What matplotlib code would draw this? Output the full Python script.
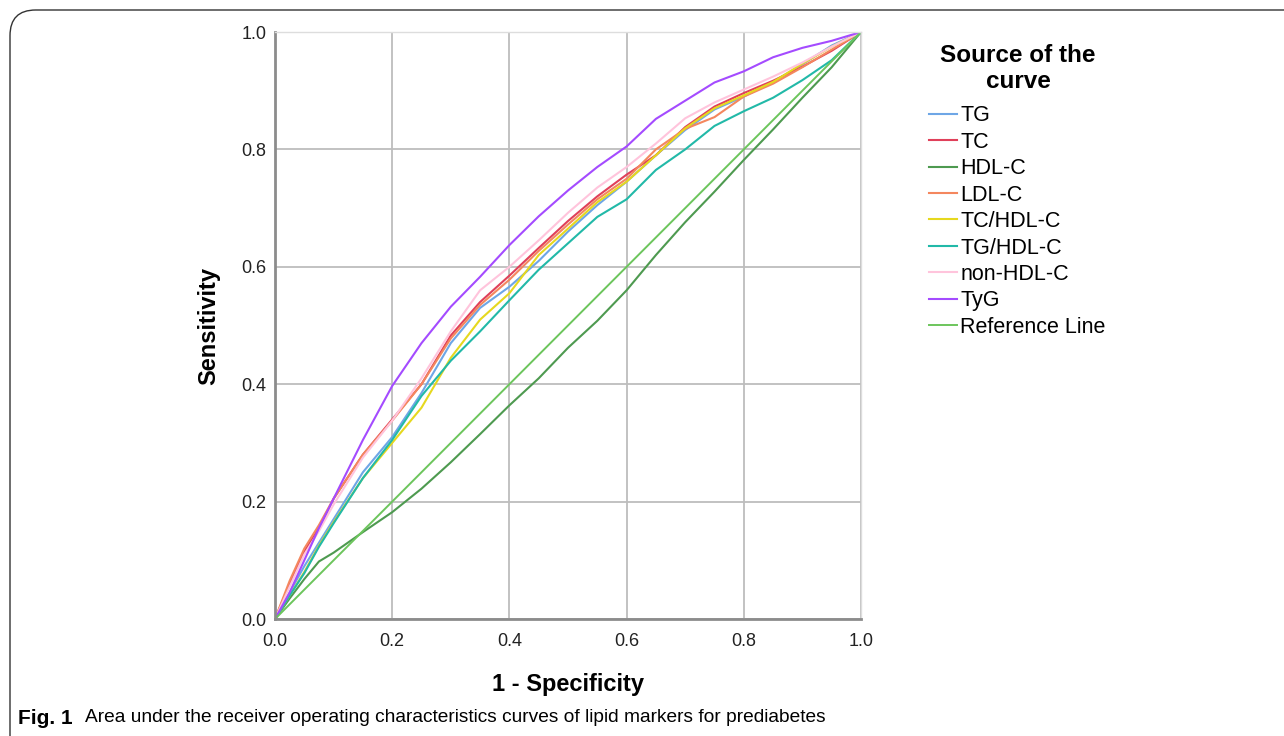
import matplotlib
matplotlib.use("Agg")
import matplotlib.pyplot as plt
from matplotlib import font_manager
from matplotlib.patches import FancyBboxPatch

# ---------------- data ----------------
fpr = [0, 0.025, 0.05, 0.075, 0.1, 0.15, 0.2, 0.25, 0.3, 0.35, 0.4, 0.45,
       0.5, 0.55, 0.6, 0.65, 0.7, 0.75, 0.8, 0.85, 0.9, 0.95, 1.0]

tpr_tg = [0, 0.045, 0.09, 0.13, 0.17, 0.25, 0.31, 0.385, 0.47, 0.53, 0.566, 0.61,
          0.66, 0.705, 0.745, 0.79, 0.833, 0.868, 0.89, 0.915, 0.945, 0.977, 1.0]
tpr_tc = [0, 0.06, 0.115, 0.155, 0.205, 0.28, 0.34, 0.40, 0.483, 0.54, 0.585, 0.632,
          0.678, 0.72, 0.757, 0.79, 0.838, 0.873, 0.896, 0.917, 0.941, 0.968, 1.0]
tpr_hdl = [0, 0.035, 0.068, 0.098, 0.113, 0.148, 0.182, 0.222, 0.267, 0.315, 0.364, 0.41,
           0.462, 0.508, 0.56, 0.62, 0.676, 0.728, 0.782, 0.834, 0.888, 0.94, 1.0]
tpr_ldl = [0, 0.065, 0.12, 0.16, 0.205, 0.28, 0.338, 0.40, 0.478, 0.535, 0.578, 0.627,
           0.672, 0.715, 0.75, 0.80, 0.835, 0.855, 0.89, 0.912, 0.94, 0.97, 1.0]
tpr_tc_hdl = [0, 0.04, 0.08, 0.125, 0.165, 0.24, 0.30, 0.36, 0.445, 0.51, 0.555, 0.62,
              0.665, 0.71, 0.745, 0.79, 0.836, 0.87, 0.892, 0.915, 0.946, 0.975, 1.0]
tpr_tg_hdl = [0, 0.04, 0.078, 0.123, 0.163, 0.24, 0.305, 0.38, 0.44, 0.49, 0.543, 0.595,
              0.64, 0.685, 0.715, 0.765, 0.80, 0.84, 0.865, 0.888, 0.918, 0.952, 1.0]
tpr_nonhdl = [0, 0.055, 0.11, 0.15, 0.195, 0.275, 0.338, 0.41, 0.49, 0.56, 0.60, 0.645,
              0.692, 0.735, 0.77, 0.81, 0.853, 0.88, 0.902, 0.924, 0.948, 0.975, 1.0]
tpr_tyg = [0, 0.045, 0.10, 0.155, 0.205, 0.305, 0.397, 0.47, 0.532, 0.583, 0.637, 0.686,
           0.73, 0.77, 0.805, 0.852, 0.883, 0.914, 0.933, 0.957, 0.973, 0.985, 1.0]
ref_x = [0, 1]
ref_y = [0, 1]

series_names = ["TG", "TC", "HDL-C", "LDL-C", "TC/HDL-C", "TG/HDL-C",
                "non-HDL-C", "TyG", "Reference Line"]
series_colors = ["#6ea6e6", "#e0405a", "#4e9a50", "#f4875e", "#e6d81e",
                 "#22b9a8", "#ffc4dc", "#a44bff", "#6cc55c"]

ticks = [0.0, 0.2, 0.4, 0.6, 0.8, 1.0]
tick_labels = ["0.0", "0.2", "0.4", "0.6", "0.8", "1.0"]

# ---------------- fonts ----------------
avail = {f.name for f in font_manager.fontManager.ttflist}
sans = "Liberation Sans" if "Liberation Sans" in avail else "DejaVu Sans"
plt.rcParams["font.family"] = [sans, "DejaVu Sans"]

W, H = 1284, 736
fig = plt.figure(figsize=(W / 100, H / 100), dpi=100)

# rounded frame (top and left visible)
frame = FancyBboxPatch((10 / W, -0.2), 1.2, (1 - 10 / H) + 0.2,
                       boxstyle="round,pad=0,rounding_size=0.02",
                       transform=fig.transFigure, fill=False,
                       edgecolor="#333333", linewidth=1.0, mutation_aspect=W / H)
fig.patches.append(frame)

ax = fig.add_axes([275 / W, 1 - 619 / H, (861 - 275) / W, (619 - 32) / H])

all_tpr = [tpr_tg, tpr_tc, tpr_hdl, tpr_ldl, tpr_tc_hdl, tpr_tg_hdl, tpr_nonhdl, tpr_tyg]
for name, col, tpr in zip(series_names[:8], series_colors[:8], all_tpr):
    ax.plot(fpr, tpr, color=col, lw=1.5, label=name, solid_joinstyle="round")
ax.plot(ref_x, ref_y, color=series_colors[8], lw=1.4, label=series_names[8])

ax.set_xlim(0, 1)
ax.set_ylim(0, 1)
ax.set_xticks(ticks)
ax.set_xticklabels(tick_labels)
ax.set_yticks(ticks)
ax.set_yticklabels(tick_labels)
ax.grid(True, color="#bdbdbd", lw=1.3)
ax.set_axisbelow(True)
for s in ["top", "right"]:
    ax.spines[s].set_color("#dddddd")
    ax.spines[s].set_linewidth(1.0)
for s in ["left", "bottom"]:
    ax.spines[s].set_color("#8c8c8c")
    ax.spines[s].set_linewidth(2.0)
ax.tick_params(axis="both", length=0, labelsize=13, colors="#222222")
ax.tick_params(axis="y", pad=6)
ax.tick_params(axis="x", pad=10)

ax.set_xlabel("1 - Specificity", fontsize=17, fontweight="bold", labelpad=17)
ax.set_ylabel("Sensitivity", fontsize=17, fontweight="bold", labelpad=15)

# legend title placed as text, entries as a frameless legend
fig.text(1018 / W, 1 - 56 / H, "Source of the", fontsize=17.5, fontweight="bold",
         ha="center", va="center")
fig.text(1018 / W, 1 - 81 / H, "curve", fontsize=17.5, fontweight="bold",
         ha="center", va="center")

leg = fig.legend(loc="upper left", bbox_to_anchor=(914 / W, 1 - 90 / H),
                 bbox_transform=fig.transFigure, frameon=False,
                 fontsize=15.5, handlelength=1.3, handletextpad=0.15,
                 labelspacing=0.255, borderpad=0.2)

fig.text(18 / W, 1 - 718 / H, "Fig. 1", fontsize=15, fontweight="bold",
         va="center", ha="left")
fig.text(85 / W, 1 - 718 / H,
         "Area under the receiver operating characteristics curves of lipid markers for prediabetes",
         fontsize=13.8, va="center", ha="left")

fig.savefig("out.png", dpi=100)
